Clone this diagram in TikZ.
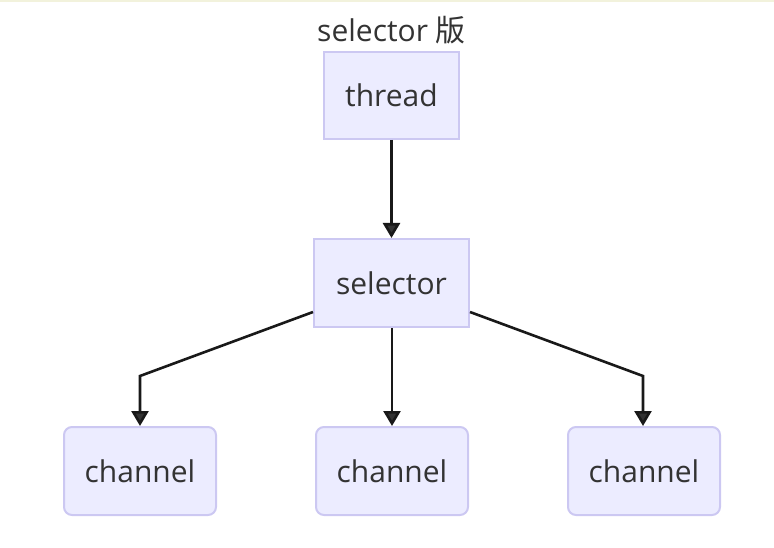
\documentclass[tikz,border=0pt]{standalone}
\usepackage{fontspec}
\setmainfont{Open Sans}
\newfontfamily\cjk{Noto Sans CJK SC}
\usetikzlibrary{arrows.meta}
\definecolor{boxfill}{HTML}{ECECFF}
\definecolor{boxline}{HTML}{CCC8F2}
\definecolor{txt}{HTML}{333333}
\definecolor{topline}{HTML}{F2F2DC}

\begin{document}
\begin{tikzpicture}[x=1pt, y=-1pt]

\tikzstyle{every node} = [text=txt, font=\fontsize{30}{36}\selectfont]
\tikzstyle{box} = [rectangle, draw=boxline, fill=boxfill, line width=2pt, inner sep=0pt]
\tikzstyle{chan} = [box, rounded corners=8pt, minimum width=152pt, minimum height=88pt]
\tikzstyle{arr} = [draw=black!90, line width=2.6pt, -{Triangle[width=17pt,length=15pt,fill=txt]}]

\useasboundingbox (0,0) rectangle (774,548);
\fill[topline] (0,0) rectangle (774,2);

\node (t) at (391.5,30) {selector {\cjk 版}};

\node[box, minimum width=135pt, minimum height=87pt] (th) at (391.5,95.5) {thread};
\node[box, minimum width=155pt, minimum height=88pt] (s) at (391.5,283) {selector};

\node[chan] (c1) at (140,471) {channel};
\node[chan] (c2) at (392,471) {channel};
\node[chan] (c3) at (644,471) {channel};

\coordinate (b1) at (140,376);
\coordinate (b3) at (643,376);

\draw[arr] (th) -- (s);
\draw[arr] (s.west) ++(0,29) -- (b1) -- (c1.north -| b1);
\draw[arr] (s.south -| c2.north) -- (c2.north);
\draw[arr] (s.east) ++(0,29) -- (b3) -- (c3.north -| b3);

\end{tikzpicture}
\end{document}
